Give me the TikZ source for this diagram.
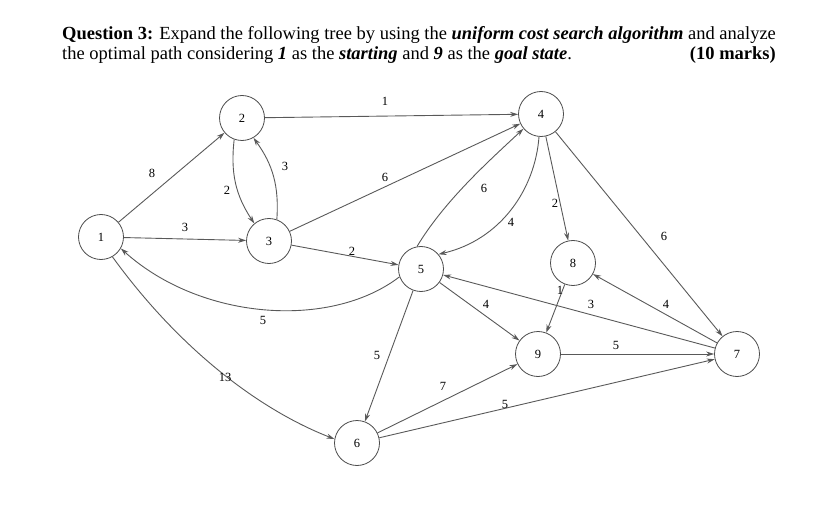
\documentclass[tikz,border=0pt]{standalone}
\usepackage{fontspec}
\setmainfont{Liberation Serif}
\usetikzlibrary{arrows.meta}
\begin{document}
\begin{tikzpicture}[x=1pt,y=-1pt,
  st/.style={circle,draw=black!70,line width=0.8pt,minimum size=45pt,inner sep=0pt,font=\fontsize{12.5}{14}\selectfont},
  ed/.style={draw=black!65,line width=0.9pt,-{Stealth[length=8pt,width=5pt]}},
  lb/.style={font=\fontsize{12.5}{14}\selectfont,inner sep=1pt},
  tt/.style={inner sep=0pt,font=\fontsize{18.5}{20}\selectfont}]
\useasboundingbox (0,0) rectangle (839,524);
\node[tt,anchor=base west] (t1) at (62,40) {\textbf{Question 3:} Expand the following tree by using the \textbf{\textit{uniform cost search algorithm}} and analyze};
\node[tt,anchor=base west] (t2) at (62,60) {the optimal path considering \textbf{\textit{1}} as the \textbf{\textit{starting}} and \textbf{\textit{9}} as the \textbf{\textit{goal state}}.};
\node[tt,anchor=base east] (t3) at (776,60) {\textbf{(10 marks)}};
\node[st] (n1) at (101,237) {1};
\node[st] (n2) at (242,118) {2};
\node[st] (n3) at (269,241) {3};
\node[st] (n4) at (541,114) {4};
\node[st] (n5) at (421,269) {5};
\node[st] (n6) at (357,443) {6};
\node[st] (n7) at (737,354) {7};
\node[st] (n8) at (573,263) {8};
\node[st] (n9) at (538,354) {9};
\draw[ed] (n1) -- (n2);
\draw[ed] (n1) -- (n3);
\draw[ed] (n2) -- (n4);
\draw[ed] (n2.250) to[bend right=20] (n3.130);
\draw[ed] (n3.70) to[bend right=20] (n2.300);
\draw[ed] (n3) -- (n4);
\draw[ed] (n3) -- (n5);
\draw[ed] (n5.200) .. controls (330,330) and (200,320) .. (n1.330);
\draw[ed] (n1.300) .. controls (180,350) and (260,410) .. (n6.170);
\draw[ed] (n5.100) .. controls (445,200) and (490,160) .. (n4.220);
\draw[ed] (n4.265) .. controls (535,190) and (500,240) .. (n5.40);
\draw[ed] (n4) -- (n8);
\draw[ed] (n4) -- (n7);
\draw[ed] (n7) -- (n8);
\draw[ed] (n7) -- (n5);
\draw[ed] (n8) -- (n9);
\draw[ed] (n5) -- (n9);
\draw[ed] (n5) -- (n6);
\draw[ed] (n6) -- (n9);
\draw[ed] (n6) -- (n7);
\draw[ed] (n9) -- (n7);
\node[lb] (l12) at (152,173) {8};
\node[lb] (l13) at (185,227) {3};
\node[lb] (l24) at (385,101) {1};
\node[lb] (l23) at (227,190) {2};
\node[lb] (l32) at (285,166) {3};
\node[lb] (l34) at (385,177) {6};
\node[lb] (l35) at (352,251) {2};
\node[lb] (l51) at (263,320) {5};
\node[lb] (l16) at (225,377) {13};
\node[lb] (l54) at (484,188) {6};
\node[lb] (l45) at (511,222) {4};
\node[lb] (l48) at (555,203) {2};
\node[lb] (l47) at (664,236) {6};
\node[lb] (l78) at (666,304) {4};
\node[lb] (l75) at (591,304) {3};
\node[lb] (l89) at (560,290) {1};
\node[lb] (l59) at (486,304) {4};
\node[lb] (l56) at (377,355) {5};
\node[lb] (l69) at (443,386) {7};
\node[lb] (l67) at (505,404) {5};
\node[lb] (l97) at (616,345) {5};
\end{tikzpicture}
\end{document}
